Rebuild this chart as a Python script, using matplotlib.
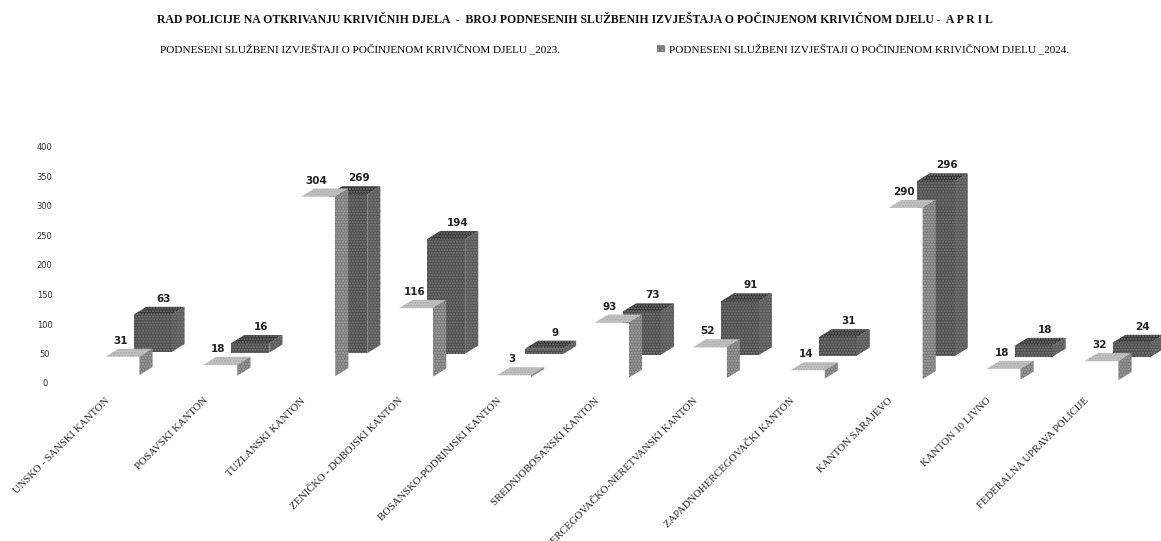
import matplotlib
matplotlib.use("Agg")
import matplotlib.pyplot as plt
from matplotlib.patches import Polygon, Patch

# ---- data ----
categories = ["UNSKO - SANSKI KANTON", "POSAVSKI KANTON", "TUZLANSKI KANTON",
              "ZENIČKO - DOBOJSKI KANTON", "BOSANSKO-PODRINJSKI KANTON",
              "SREDNJOBOSANSKI KANTON", "HERCEGOVAČKO-NERETVANSKI KANTON",
              "ZAPADNOHERCEGOVAČKI KANTON", "KANTON SARAJEVO", "KANTON 10 LIVNO",
              "FEDERALNA UPRAVA POLICIJE"]
values_2023 = [31, 18, 304, 116, 3, 93, 52, 14, 290, 18, 32]
values_2024 = [63, 16, 269, 194, 9, 73, 91, 31, 296, 18, 24]
y_ticks = [0, 50, 100, 150, 200, 250, 300, 350, 400]
title = "RAD POLICIJE NA OTKRIVANJU KRIVIČNIH DJELA  -  BROJ PODNESENIH SLUŽBENIH IZVJEŠTAJA O POČINJENOM KRIVIČNOM DJELU -  A P R I L"
legend_2023 = "PODNESENI SLUŽBENI IZVJEŠTAJI O POČINJENOM KRIVIČNOM DJELU _2023."
legend_2024 = "PODNESENI SLUŽBENI IZVJEŠTAJI O POČINJENOM KRIVIČNOM DJELU _2024."

W, H = 1161, 541
PX_PER_CAT = 97.9
PX_PER_VAL = (383 - 147) / 400
CAT0_PX = 122.5

fig = plt.figure(figsize=(W / 100, H / 100), dpi=100, facecolor="white")
ax = fig.add_axes([60 / W, 1 - 383 / H, (W - 60) / W, (383 - 147) / H])
ax.set_xlim((60 - CAT0_PX) / PX_PER_CAT, (W - CAT0_PX) / PX_PER_CAT)
ax.set_ylim(0, 400)
ax.patch.set_alpha(0)
for s in ax.spines.values():
    s.set_visible(False)

depth_x = 13 / PX_PER_CAT
depth_y = 8 / PX_PER_VAL


def bar3d(x, value, width, base, front, top, side, hatch_col, z):
    x0, x1 = x - width / 2, x + width / 2
    y0, y1 = base, base + value
    faces = [
        ([(x0, y0), (x1, y0), (x1, y1), (x0, y1)], front),
        ([(x0, y1), (x1, y1), (x1 + depth_x, y1 + depth_y), (x0 + depth_x, y1 + depth_y)], top),
        ([(x1, y0), (x1 + depth_x, y0 + depth_y), (x1 + depth_x, y1 + depth_y), (x1, y1)], side),
    ]
    for pts, col in faces:
        textured = col != "white"
        ax.add_patch(Polygon(pts, closed=True, facecolor=col, edgecolor=hatch_col if textured else "white",
                             hatch="......" if textured else None, linewidth=0,
                             clip_on=False, zorder=z))
    return y1 + depth_y


for i, v in enumerate(values_2024):
    base = (383 - (352 + 0.5 * i)) / PX_PER_VAL
    x = i + 30 / PX_PER_CAT
    y_top = bar3d(x, v, 38 / PX_PER_CAT, base, "#4c4c4c", "#333333", "#585858", "#7c7c7c", 2)
    ax.text(x + 11 / PX_PER_CAT, y_top + 3 / PX_PER_VAL, str(v), ha="center", va="bottom",
            fontsize=7.5, fontweight="bold", color="#222222", clip_on=False, zorder=6)

for i, v in enumerate(values_2023):
    base = (383 - (375 + 0.5 * i)) / PX_PER_VAL
    y_top = bar3d(i, v, 34 / PX_PER_CAT, base, "white", "#c4c4c4", "#777777", "#aaaaaa", 3 + i * 0.01)
    ax.text(i - 2 / PX_PER_CAT, y_top + 3 / PX_PER_VAL, str(v), ha="center", va="bottom",
            fontsize=7.5, fontweight="bold", color="#222222", clip_on=False, zorder=6)

ax.set_yticks(y_ticks)
ax.tick_params(axis="y", length=0, labelsize=6, labelcolor="#333333", pad=11)
for t in ax.get_yticklabels():
    t.set_ha("center")

ax.set_xticks([i - 17.5 / PX_PER_CAT for i in range(len(categories))])
ax.set_xticklabels(categories, rotation=45, ha="right", va="top", rotation_mode="anchor",
                   fontsize=7.7, family="Liberation Serif", color="#222222")
ax.tick_params(axis="x", length=0, pad=9.5)

fig.text(575 / W, 1 - 20 / H, title, ha="center", va="center", fontsize=8.5,
         fontweight="bold", family="Liberation Serif", color="#111111")

handles = [Patch(facecolor="white", edgecolor="white"),
           Patch(facecolor="#777777", edgecolor="#999999", hatch="....", linewidth=0)]
fig.legend(handles, [legend_2023, legend_2024], ncol=2, frameon=False, loc="center left",
           bbox_to_anchor=(148 / W, 1 - 49 / H), borderpad=0, borderaxespad=0,
           handlelength=0.7, handleheight=0.6, handletextpad=0.35, columnspacing=8.7,
           prop={"family": "Liberation Serif", "size": 8.05})

fig.savefig("out.png", dpi=100, facecolor="white")
